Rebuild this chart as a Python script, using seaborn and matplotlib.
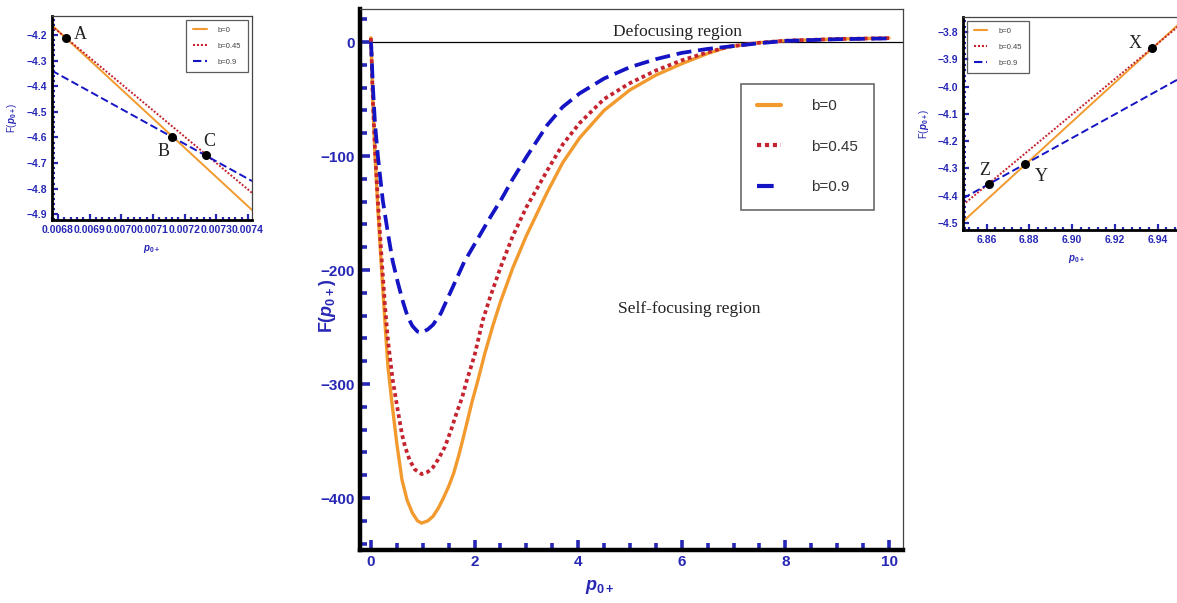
import numpy as np
import pandas as pd
import matplotlib
matplotlib.use("Agg")
import matplotlib.pyplot as plt
import seaborn as sns
from matplotlib.ticker import AutoMinorLocator, MultipleLocator
from matplotlib.lines import Line2D

# main curves
x_b0 = [0, 0.007, 0.04, 0.08, 0.14, 0.2, 0.27, 0.33, 0.4, 0.5, 0.6, 0.7, 0.8, 0.9, 0.98,
        1.1, 1.2, 1.3, 1.4, 1.5, 1.6, 1.7, 1.8, 1.95, 2.07, 2.2, 2.36, 2.5, 2.74, 3.0,
        3.4, 3.7, 4.03, 4.5, 5.0, 5.5, 6.0, 6.5, 6.9, 7.5, 8.0, 9.0, 10.0]
F_b0 = [3.8, -4.5, -55, -100, -150, -195, -245, -285, -314, -352, -384, -402, -413, -420, -422,
        -420, -416, -409, -400, -390, -378, -362, -344, -316, -296, -273, -248, -228, -198, -170,
        -132, -106, -84, -60, -42, -29, -19, -10, -4.2, -0.5, 1.2, 2.7, 3.5]

x_b045 = [0, 0.007, 0.04, 0.08, 0.14, 0.2, 0.27, 0.33, 0.42, 0.5, 0.6, 0.66, 0.75, 0.85, 0.98,
          1.1, 1.2, 1.3, 1.43, 1.55, 1.65, 1.76, 1.85, 2.0, 2.16, 2.3, 2.5, 2.74, 3.0,
          3.4, 3.7, 4.03, 4.5, 5.0, 5.5, 6.0, 6.5, 6.9, 7.5, 8.0, 9.0, 10.0]
F_b045 = [3.6, -4.4, -52, -95, -143, -185, -230, -262, -296, -318, -344, -355, -367, -375, -379,
          -377, -373, -366, -355, -340, -326, -312, -297, -275, -244, -224, -198, -170, -145,
          -113, -90, -71, -50, -36, -25, -16, -9, -4.1, -0.6, 1.2, 2.7, 3.4]

x_b09 = [0, 0.007, 0.04, 0.08, 0.135, 0.23, 0.33, 0.42, 0.52, 0.62, 0.71, 0.8, 0.9, 0.98,
         1.1, 1.2, 1.35, 1.5, 1.62, 1.8, 2.07, 2.3, 2.53, 2.74, 3.0, 3.4, 3.7, 4.03,
         4.5, 5.0, 5.5, 6.0, 6.5, 6.9, 7.5, 8.0, 9.0, 10.0]
F_b09 = [0.4, -4.3, -40, -72, -100, -139, -168, -192, -211, -228, -241, -249, -254, -255,
         -252, -248, -238, -223, -211, -193, -172, -154, -137, -120, -101, -73, -57, -45,
         -32, -22, -15, -9.5, -6, -4, -1, 1, 2.5, 3.2]

# left inset (straight segments) and crossing points
xl = [0.00678, 0.007413]
Fl_b0 = [-4.161, -4.883]
Fl_b045 = [-4.165, -4.816]
Fl_b09 = [-4.339, -4.770]
pts_left = {"A": (0.006825, -4.213), "B": (0.007161, -4.600), "C": (0.007269, -4.669)}

# right inset
xr = [6.849, 6.955]
Fr_b0 = [-4.495, -3.735]
Fr_b045 = [-4.434, -3.745]
Fr_b09 = [-4.410, -3.950]
pts_right = {"X": (6.9375, -3.857), "Y": (6.878, -4.284), "Z": (6.861, -4.357)}

labels = ["b=0", "b=0.45", "b=0.9"]
colors = ["#F29A2E", "#C4232F", "#1414C4"]
styles = ["-", (0, (1.0, 0.9)), (0, (4.0, 1.8))]
tick_blue = "#2727B5"

sns.set_style("ticks")
plt.rcParams["font.family"] = ["Liberation Sans", "DejaVu Sans"]
plt.rcParams["mathtext.fontset"] = "custom"
plt.rcParams["mathtext.it"] = "Liberation Sans:italic:bold"
plt.rcParams["mathtext.rm"] = "Liberation Sans:bold"
plt.rcParams["mathtext.bf"] = "Liberation Sans:bold"

fig = plt.figure(figsize=(11.77, 6.03), dpi=100)


def style_axes(ax, lw_main, tick_w, maj_len, min_len, fs):
    for side in ["left", "bottom"]:
        ax.spines[side].set_linewidth(lw_main)
        ax.spines[side].set_color("black")
    for side in ["top", "right"]:
        ax.spines[side].set_visible(True)
        ax.spines[side].set_linewidth(0.9)
        ax.spines[side].set_color("#444444")
    ax.tick_params(which="both", direction="in", color=tick_blue, width=tick_w,
                   labelcolor=tick_blue, labelsize=fs, top=False, right=False)
    ax.tick_params(which="major", length=maj_len)
    ax.tick_params(which="minor", length=min_len)
    for t in ax.get_xticklabels() + ax.get_yticklabels():
        t.set_fontweight("bold")


# ---- main plot
ax = fig.add_axes([360 / 1177, 1 - 550 / 603, 543 / 1177, 541 / 603])
series = [(x_b0, F_b0), (x_b045, F_b045), (x_b09, F_b09)]
for (xs, ys), lab, c, ls in zip(series, labels, colors, styles):
    lw = 2.4 if ls == "-" else 2.7
    sns.lineplot(x=xs, y=ys, ax=ax, color=c, lw=lw, linestyle=ls, label=lab, legend=False)
ax.axhline(0, color="black", lw=0.9, zorder=0)
ax.set_xlim(-0.21, 10.27)
ax.set_ylim(-445.6, 29)
ax.xaxis.set_major_locator(MultipleLocator(2))
ax.xaxis.set_minor_locator(AutoMinorLocator(4))
ax.yaxis.set_major_locator(MultipleLocator(100))
ax.yaxis.set_minor_locator(AutoMinorLocator(5))
ax.set_yticks([0, -100, -200, -300, -400])
ax.set_yticklabels(["0", "\u2212100", "\u2212200", "\u2212300", "\u2212400"])
style_axes(ax, 3.2, 2.6, 7, 5, 11)
ax.set_xlabel(r"$p_{0+}$", color=tick_blue, fontsize=13)
ax.xaxis.set_label_coords((600 - 360) / 543, (550 - 578) / 541)
ax.set_ylabel(r"F($p_{0+}$)", color=tick_blue, fontsize=13, fontweight="bold")
ax.yaxis.set_label_coords((338 - 360) / 543, (550 - 306) / 541)
ax.text(0.585, 0.958, "Defocusing region", transform=ax.transAxes, ha="center", va="center",
        fontsize=12.5, family="Liberation Serif", color="#222222")
ax.text(0.607, 0.446, "Self-focusing region", transform=ax.transAxes, ha="center", va="center",
        fontsize=12.5, family="Liberation Serif", color="#222222")
handles = [Line2D([], [], color=c, lw=3, linestyle=ls) for c, ls in zip(colors, styles)]
leg = ax.legend(handles, labels, loc="upper right", bbox_to_anchor=(0.946, 0.862),
                fontsize=11, frameon=True, fancybox=False, edgecolor="#444444",
                handlelength=1.6, labelspacing=1.75, borderpad=1.0, handletextpad=2.0,
                borderaxespad=0)
leg.get_frame().set_linewidth(1.2)
for t in leg.get_texts():
    t.set_color("#333333")


def inset(rect, xs, ylist, xlim, ylim, pts, offsets, legloc, xmaj, ymaj, xfmt):
    a = fig.add_axes(rect)
    for ys, lab, c, ls in zip(ylist, labels, colors, styles):
        sns.lineplot(x=xs, y=ys, ax=a, color=c, lw=1.4, linestyle=ls, label=lab, legend=False)
    for name, (px, py) in pts.items():
        a.scatter([px], [py], s=30, color="black", zorder=5)
        dx, dy = offsets[name]
        a.annotate(name, (px, py), xytext=(dx, dy), textcoords="offset points",
                   fontsize=13, family="Liberation Serif", color="#222222",
                   ha="center", va="center")
    a.set_xlim(*xlim)
    a.set_ylim(*ylim)
    a.xaxis.set_major_locator(MultipleLocator(xmaj))
    a.xaxis.set_minor_locator(AutoMinorLocator(5))
    a.yaxis.set_major_locator(MultipleLocator(ymaj))
    a.yaxis.set_minor_locator(AutoMinorLocator(5))
    a.xaxis.set_major_formatter(xfmt)
    a.yaxis.set_major_formatter(lambda v, p: f"{v:.1f}".replace("-", "\u2212"))
    style_axes(a, 2.0, 1.6, 4, 2.5, 7.5)
    a.set_xlabel(r"$p_{0+}$", color=tick_blue, fontsize=7, labelpad=6)
    a.set_ylabel(r"F($p_{0+}$)", color=tick_blue, fontsize=7, labelpad=5)
    hs = [Line2D([], [], color=c, lw=1.5, linestyle=ls) for c, ls in zip(colors, styles)]
    lg = a.legend(hs, labels, loc=legloc, fontsize=5.5, frameon=True, fancybox=False,
                  edgecolor="#333333", handlelength=1.8, labelspacing=1.1, borderpad=0.9,
                  handletextpad=1.4)
    lg.get_frame().set_linewidth(0.9)
    for t in lg.get_texts():
        t.set_color("#444444")
    return a


inset([51.7 / 1177, 1 - 220 / 603, 200.3 / 1177, 204 / 603], xl,
      [Fl_b0, Fl_b045, Fl_b09], (0.00678, 0.007413), (-4.922, -4.126), pts_left,
      {"A": (10, 3), "B": (-6, -10), "C": (2, 10)}, "upper right", 0.0001, 0.1,
      lambda v, p: f"{v:.4f}".rstrip("0") if abs(v - 0.0074) < 1e-9 else f"{v:.4f}")

inset([963 / 1177, 1 - 230 / 603, 226.6 / 1177, 213 / 603], xr,
      [Fr_b0, Fr_b045, Fr_b09], (6.849, 6.955), (-4.526, -3.745), pts_right,
      {"X": (-12, 3), "Y": (12, -9), "Z": (-3, 10)}, "upper left", 0.02, 0.1,
      lambda v, p: f"{v:.2f}")

fig.savefig("out.png", dpi=100)
